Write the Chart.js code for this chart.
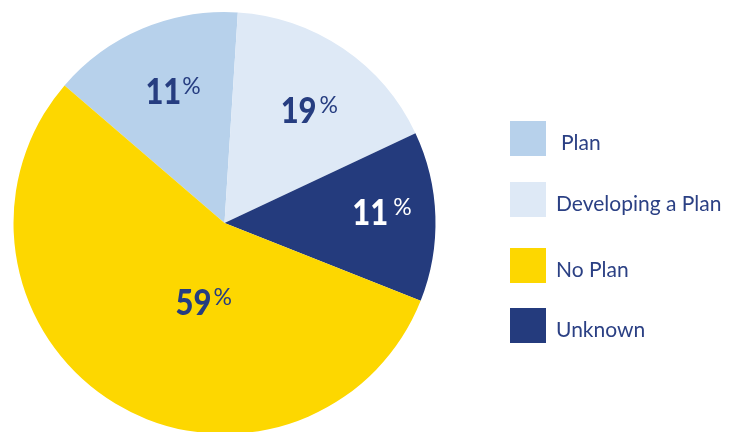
<!DOCTYPE html>
<html>
<head>
<meta charset="utf-8">
<script src="https://cdn.jsdelivr.net/npm/chart.js@4.4.1/dist/chart.umd.min.js"></script>
<style>
    html, body { margin: 0; padding: 0; background: #ffffff; overflow: hidden; }
    canvas { display: block; }
</style>
</head>
<body>
<canvas id="pie_chart" width="729" height="436"></canvas>
<script>
// slice order = clockwise drawing order
let categories = ['Plan', 'Developing a Plan', 'Unknown', 'No Plan'];
let sliceValues = [14.7, 17.0, 13.0, 55.3];
let printedPercents = ['11', '19', '11', '59'];
let legendOrder = ['Plan', 'Developing a Plan', 'No Plan', 'Unknown'];

let sliceColors = ['#b7d1eb', '#dee9f6', '#243b7d', '#fdd700'];
let labelColors = ['#263d80', '#263d80', '#ffffff', '#263d80'];
// number left edge / baseline, relative to pie centre, in radius units
let labelOffsets = [[-0.375, -0.562], [0.266, -0.476], [0.606, 0.010], [-0.232, 0.438]];
let percentGaps = [1, 3, 5, 2];
let legendTops = [121, 182, 248, 308];

const textColor = '#2b4084';

//=======================================================//
let sliceLabelPlugin = {
    id: 'sliceLabels',
    afterDatasetsDraw(chart) {
        let ctx = chart.ctx;
        let arcs = chart.getDatasetMeta(0).data;
        arcs.forEach(function (arc, i) {
            let r = arc.outerRadius;
            let x = arc.x + labelOffsets[i][0] * r;
            let y = arc.y + labelOffsets[i][1] * r;
            ctx.save();
            ctx.fillStyle = labelColors[i];
            ctx.textBaseline = 'alphabetic';
            ctx.textAlign = 'left';
            ctx.font = '900 36px Lato';
            let w = ctx.measureText(printedPercents[i]).width * 0.86;
            ctx.translate(x, y);
            ctx.scale(0.86, 1);
            ctx.fillText(printedPercents[i], 0, 0);
            ctx.restore();

            ctx.save();
            ctx.fillStyle = labelColors[i];
            ctx.font = '23px Lato';
            ctx.textBaseline = 'alphabetic';
            ctx.fillText('%', x + w + percentGaps[i], y - 10);
            ctx.restore();
        });
    }
};

let legendPlugin = {
    id: 'sideLegend',
    afterDraw(chart) {
        let ctx = chart.ctx;
        legendOrder.forEach(function (name, k) {
            let idx = categories.indexOf(name);
            let top = legendTops[k];
            ctx.save();
            ctx.fillStyle = sliceColors[idx];
            ctx.fillRect(510, top, 36, 35);
            ctx.fillStyle = textColor;
            ctx.font = '21px Lato';
            ctx.textBaseline = 'alphabetic';
            ctx.textAlign = 'left';
            let tx = (name === 'Plan') ? 561 : 556;
            ctx.fillText(name, tx, top + 29);
            ctx.restore();
        });
    }
};

function showPieChart() {
    let ctx = document.getElementById('pie_chart').getContext('2d');

    let data = {
        labels: categories,
        datasets: [{
            label: 'Plan status',
            data: sliceValues,
            backgroundColor: sliceColors,
            borderWidth: 0,
            hoverOffset: 0
        }]
    };

    new Chart(ctx, {
        type: 'pie',
        data: data,
        options: {
            responsive: false,
            maintainAspectRatio: false,
            animation: false,
            rotation: -49.3,
            layout: {
                padding: { left: 13, top: 12, right: 293, bottom: 2 }
            },
            plugins: {
                legend: { display: false },
                tooltip: { enabled: false },
                title: { display: false }
            }
        },
        plugins: [sliceLabelPlugin, legendPlugin]
    });
}

showPieChart();
</script>
</body>
</html>
